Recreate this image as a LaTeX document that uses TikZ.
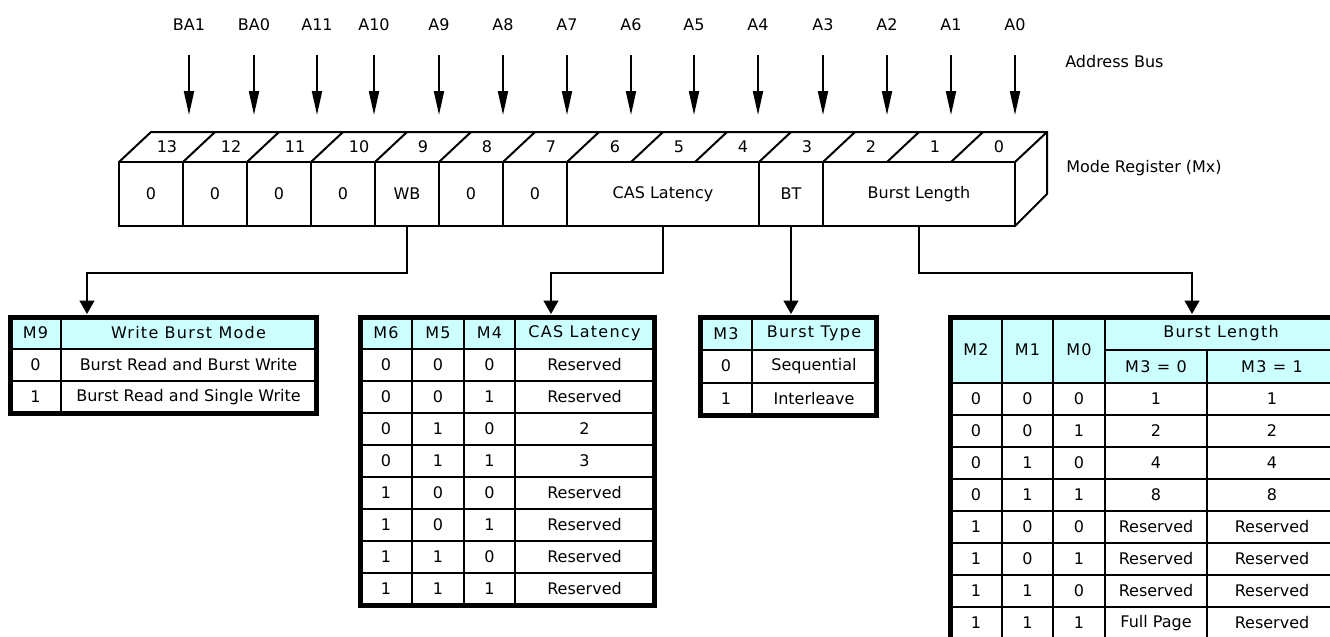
\documentclass[tikz,border=0pt]{standalone}
\usepackage{fontspec}
\setmainfont{DejaVu Sans}
\newfontfamily\tblfont{DejaVu Sans}
\newfontfamily\hdrfont[LetterSpace=8]{DejaVu Sans}
\usetikzlibrary{arrows.meta,calc}
\definecolor{hdrcyan}{HTML}{CCFFFF}

\begin{document}
\begin{tikzpicture}[
    x=0.75pt, y=-0.75pt,
    reg/.style={line width=1.5pt},
    field/.style={draw, line width=1.5pt, minimum height=48pt, inner sep=0pt, font=\fontsize{12}{14}\selectfont},
    bitnum/.style={inner sep=0pt, font=\fontsize{12}{14}\selectfont},
    buslabel/.style={inner sep=0pt, font=\fontsize{12}{14}\selectfont},
    busarrow/.style={line width=1.5pt, -{Triangle[length=18pt, width=7.5pt]}},
    conn/.style={line width=1.5pt, -{Triangle[length=10pt, width=11pt]}},
    frame/.style={line width=3.75pt},
    grid/.style={line width=1.5pt},
    cell/.style={inner sep=0pt, font=\tblfont\fontsize{12}{14}\selectfont},
    hcell/.style={inner sep=0pt, font=\hdrfont\fontsize{12}{14}\selectfont},
    note/.style={anchor=west, inner sep=0pt, font=\fontsize{12}{14}\selectfont}
]
    \useasboundingbox (0,0) rectangle (1330,636);

    % Address bus
    \foreach \lbl/\x [count=\i] in {BA1/189, BA0/254, A11/317, A10/374, A9/439, A8/503, A7/567,
                                    A6/631, A5/694, A4/758, A3/823, A2/887, A1/951, A0/1015} {
        \node[buslabel] (bus\i) at (\x, 25) {\lbl};
        \coordinate (tip\i) at (\x, 115);
        \draw[busarrow] ($(bus\i)+(0,30)$) -- (tip\i);
    }
    \node[note] (addrbus) at (1065, 62) {Address Bus};

    % Register: top and side faces
    \draw[reg] (119,162) -- (151,132) -- (1047,132) -- (1047,194) -- (1015,226);
    \draw[reg] (1015,162) -- (1047,132);
    \foreach \k in {1,...,13}
        \draw[reg] ({119+64*\k},162) -- ++(32,-30);
    \foreach \b in {0,...,13}
        \node[bitnum] (bit\b) at ({119+64*(13-\b)+48}, 147) {\b};

    % Register: fields
    \foreach \nm/\hi/\lo/\txt in {f13/13/13/0, f12/12/12/0, f11/11/11/0, f10/10/10/0, fWB/9/9/WB,
                                  f8/8/8/0, f7/7/7/0, fCAS/6/4/CAS Latency, fBT/3/3/BT, fBL/2/0/Burst Length} {
        \pgfmathsetmacro{\cx}{119+64*(13-\hi)+32*(\hi-\lo+1)}
        \pgfmathsetmacro{\w}{48*(\hi-\lo+1)}
        \node[field, minimum width=\w pt] (\nm) at (\cx, 194) {\txt};
    }
    \node[note] (modereg) at (1066, 168) {Mode Register (Mx)};

    % Connectors
    \coordinate (wbin) at (87, 314);
    \coordinate (casin) at (551, 314);
    \coordinate (btin) at (791, 314);
    \coordinate (blin) at (1192, 314);
    \draw[conn] (fWB.south) -- ++(0,46) -| (wbin);
    \draw[conn] (fCAS.south) -- ++(0,46) -| (casin);
    \draw[conn] (fBT.south) -- (btin);
    \draw[conn] (fBL.south) -- ++(0,46) -| (blin);

    % Write burst mode table
    \fill[hdrcyan] (10,317) rectangle (316,349);
    \draw[grid] (61,317) -- (61,413);
    \foreach \y in {349,381}
        \draw[grid] (10,\y) -- (316,\y);
    \draw[frame] (10,317) rectangle (316,413);
    \node[hcell] (wbh1) at (35.5,333) {M9};
    \node[hcell] (wbh2) at (188.5,333) {Write Burst Mode};
    \foreach \m/\txt [count=\r] in {0/Burst Read and Burst Write, 1/Burst Read and Single Write} {
        \node[cell] (wb\r-m) at (35.5,{333+32*\r}) {\m};
        \node[cell] (wb\r-t) at (188.5,{333+32*\r}) {\txt};
    }

    % CAS latency table
    \fill[hdrcyan] (360,317) rectangle (654,349);
    \foreach \x in {412,464,515}
        \draw[grid] (\x,317) -- (\x,605);
    \foreach \y in {349,381,...,573}
        \draw[grid] (360,\y) -- (654,\y);
    \draw[frame] (360,317) rectangle (654,605);
    \foreach \txt/\x [count=\c] in {M6/386, M5/438, M4/489.5, CAS Latency/584.5}
        \node[hcell] (cash\c) at (\x,333) {\txt};
    \foreach \a/\b/\d/\lat [count=\r] in {0/0/0/Reserved, 0/0/1/Reserved, 0/1/0/2, 0/1/1/3,
                                          1/0/0/Reserved, 1/0/1/Reserved, 1/1/0/Reserved, 1/1/1/Reserved} {
        \node[cell] (cas\r-a) at (386,{333+32*\r}) {\a};
        \node[cell] (cas\r-b) at (438,{333+32*\r}) {\b};
        \node[cell] (cas\r-c) at (489.5,{333+32*\r}) {\d};
        \node[cell] (cas\r-l) at (584.5,{333+32*\r}) {\lat};
    }

    % Burst type table
    \fill[hdrcyan] (700,317) rectangle (876,350);
    \draw[grid] (752,317) -- (752,415);
    \foreach \y in {350,383}
        \draw[grid] (700,\y) -- (876,\y);
    \draw[frame] (700,317) rectangle (876,415);
    \node[hcell] (bth1) at (726,333.5) {M3};
    \node[hcell] (bth2) at (814,333.5) {Burst Type};
    \foreach \m/\txt [count=\r] in {0/Sequential, 1/Interleave} {
        \node[cell] (bt\r-m) at (726,{333.5+32.5*\r}) {\m};
        \node[cell] (bt\r-t) at (814,{333.5+32.5*\r}) {\txt};
    }

    % Burst length table
    \fill[hdrcyan] (950,317) rectangle (1337,383);
    \foreach \x in {1002,1053,1105}
        \draw[grid] (\x,317) -- (\x,639);
    \draw[grid] (1207,350) -- (1207,639);
    \draw[grid] (1105,350) -- (1337,350);
    \foreach \y in {383,415,...,607}
        \draw[grid] (950,\y) -- (1337,\y);
    \draw[frame] (950,317) rectangle (1337,639);
    \foreach \txt/\x [count=\c] in {M2/976, M1/1027.5, M0/1079}
        \node[hcell] (blh\c) at (\x,350) {\txt};
    \node[hcell] (blh4) at (1221,333.5) {Burst Length};
    \node[hcell] (blh5) at (1156,366.5) {M3 = 0};
    \node[hcell] (blh6) at (1272,366.5) {M3 = 1};
    \foreach \a/\b/\d/\lzero/\lone [count=\r] in {0/0/0/1/1, 0/0/1/2/2, 0/1/0/4/4, 0/1/1/8/8,
                                                  1/0/0/Reserved/Reserved, 1/0/1/Reserved/Reserved,
                                                  1/1/0/Reserved/Reserved, 1/1/1/Full Page/Reserved} {
        \node[cell] (bl\r-a) at (976,{367+32*\r}) {\a};
        \node[cell] (bl\r-b) at (1027.5,{367+32*\r}) {\b};
        \node[cell] (bl\r-c) at (1079,{367+32*\r}) {\d};
        \node[cell] (bl\r-z) at (1156,{367+32*\r}) {\lzero};
        \node[cell] (bl\r-o) at (1272,{367+32*\r}) {\lone};
    }

\end{tikzpicture}
\end{document}
